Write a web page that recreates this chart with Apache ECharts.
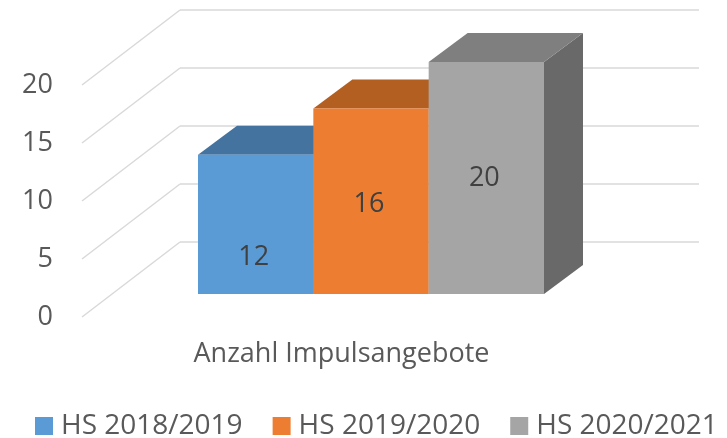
<!DOCTYPE html>
<html>
<head>
<meta charset="utf-8">
<script src="https://cdn.jsdelivr.net/npm/echarts@6/dist/echarts.min.js"></script>
<style>
  html, body { margin: 0; padding: 0; background: #fff; }
  #chart { width: 727px; height: 438px; }
</style>
</head>
<body>
<div id="chart"></div>
<script>
const kategorie = 'Anzahl Impulsangebote';
const semester = ['HS 2018/2019', 'HS 2019/2020', 'HS 2020/2021'];
const impulse = [12, 16, 20];
const ticks = [0, 5, 10, 15, 20];

// Flächenfarben je Balken: Vorderseite, Deckel, rechte Seite
const farben = [
  { vorne: '#5b9bd5', oben: '#44739f', seite: '#3e6b95' },
  { vorne: '#ed7d31', oben: '#b45f22', seite: '#a8581f' },
  { vorne: '#a5a5a5', oben: '#7f7f7f', seite: '#696969' }
];
const labelVersatz = [33, 3, 0];   // Datenbeschriftung wie im Original
const wandTiefe = [98, -75];       // vorne links -> Rückwand
const balkenTiefe = [39, -29];
const schrift = '"Open Sans", sans-serif';
const grau = '#595959';

const chart = echarts.init(document.getElementById('chart'));

function balken(i) {
  return function (params, api) {
    const basis = api.coord([api.value(0), 0]);
    const band = api.size([1, 0])[0];
    const breite = band / semester.length;
    const x0 = basis[0] - band / 2 + i * breite;
    const x1 = x0 + breite;
    const yTop = api.coord([api.value(0), api.value(1)])[1];
    const yBase = basis[1];
    const [dx, dy] = balkenTiefe;
    const f = farben[i];
    return {
      type: 'group',
      children: [
        {
          type: 'polygon',
          shape: { points: [[x1, yTop], [x1 + dx, yTop + dy], [x1 + dx, yBase + dy], [x1, yBase]] },
          style: { fill: f.seite }
        },
        {
          type: 'polygon',
          shape: { points: [[x0, yTop], [x1, yTop], [x1 + dx, yTop + dy], [x0 + dx, yTop + dy]] },
          style: { fill: f.oben }
        },
        {
          type: 'rect',
          shape: { x: x0, y: yTop, width: breite, height: yBase - yTop },
          style: { fill: f.vorne }
        },
        {
          type: 'text',
          x: (x0 + x1) / 2 - 2,
          y: (yTop + yBase) / 2 + labelVersatz[i],
          style: {
            text: String(api.value(1)),
            fill: '#404040',
            font: '27px ' + schrift,
            align: 'center',
            verticalAlign: 'middle'
          }
        }
      ]
    };
  };
}

const serien = semester.map((name, i) => ({
  name: name,
  type: 'custom',
  xAxisIndex: 2,
  yAxisIndex: 2,
  itemStyle: { color: farben[i].vorne },
  renderItem: balken(i),
  data: [[0, impulse[i]]],
  z: 5
}));

chart.setOption({
  animation: false,
  textStyle: { fontFamily: schrift },
  grid: [
    { left: 180, right: 28, top: 10, bottom: 196 },   // Rückwand
    { left: 82, right: 126, top: 85, bottom: 121 },   // vordere Kante
    { left: 198, right: 183, top: 62, bottom: 144 }   // Balkenfront
  ],
  xAxis: [
    { gridIndex: 0, type: 'value', min: 0, max: 1, show: false },
    {
      gridIndex: 1, type: 'category', data: [kategorie],
      axisLine: { show: false }, axisTick: { show: false },
      axisLabel: { color: grau, fontSize: 27, margin: 24, fontFamily: schrift }
    },
    { gridIndex: 2, type: 'category', data: [kategorie], show: false }
  ],
  yAxis: [
    {
      gridIndex: 0, type: 'value', min: 0, max: 20, interval: 5,
      axisLine: { show: false }, axisTick: { show: false }, axisLabel: { show: false },
      splitLine: { lineStyle: { color: '#d9d9d9', width: 1.5 } }
    },
    {
      gridIndex: 1, type: 'value', min: 0, max: 20, interval: 5,
      axisLine: { show: false }, axisTick: { show: false }, splitLine: { show: false },
      axisLabel: { color: grau, fontSize: 27, margin: 29, fontFamily: schrift }
    },
    { gridIndex: 2, type: 'value', min: 0, max: 20, show: false }
  ],
  legend: {
    data: semester,
    left: 30,
    top: 407,
    icon: 'rect',
    itemWidth: 18,
    itemHeight: 18,
    itemGap: 30,
    textStyle: { color: grau, fontSize: 28, fontFamily: schrift, padding: [0, 0, 0, 3] }
  },
  series: [
    {
      type: 'custom',
      xAxisIndex: 0,
      yAxisIndex: 0,
      z: 1,
      silent: true,
      data: ticks.map(v => [0, v]),
      renderItem: function (params, api) {
        const hinten = api.coord([0, api.value(1)]);
        return {
          type: 'line',
          shape: {
            x1: hinten[0] - wandTiefe[0], y1: hinten[1] - wandTiefe[1],
            x2: hinten[0], y2: hinten[1]
          },
          style: { stroke: '#d9d9d9', lineWidth: 1.5 }
        };
      }
    }
  ].concat(serien)
});
</script>
</body>
</html>
